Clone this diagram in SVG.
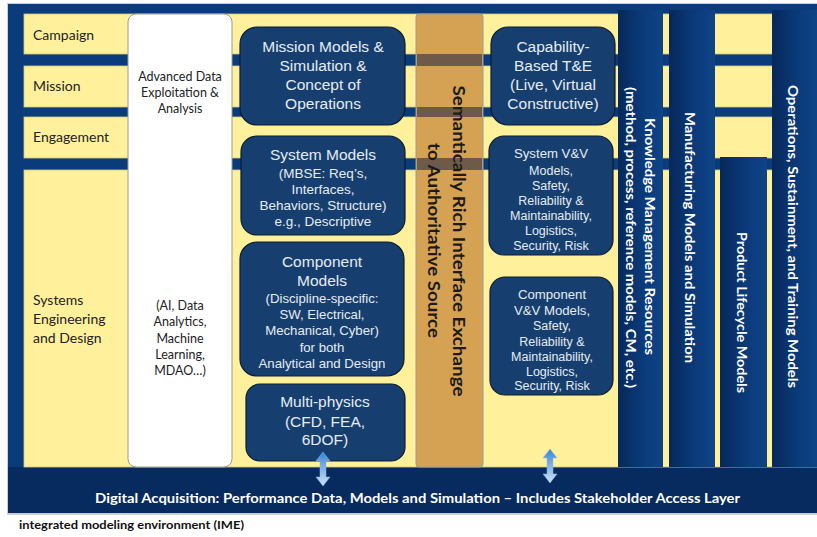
<svg xmlns="http://www.w3.org/2000/svg" width="817" height="537" viewBox="0 0 817 537">
<defs>
<style>
.row{fill:#fff19b;stroke:#d9c978;stroke-width:0.8}
.box{fill:#163f70;stroke:#0c1c33;stroke-width:1.2}
.bt{font-family:"Liberation Sans",Arial,sans-serif;fill:#e6ecf3;text-anchor:middle}
.lbl{font-family:Lato,"Open Sans",sans-serif;font-size:14px;fill:#222}
.wt{font-family:Lato,"Open Sans",sans-serif;font-size:12.5px;fill:#222;text-anchor:middle}
.col{fill:url(#colGrad)}
.ct{font-family:Lato,"Open Sans",sans-serif;font-weight:700;font-size:14px;fill:#ffffff;text-anchor:middle}
.st{font-family:Lato,"Open Sans",sans-serif;font-weight:700;font-size:17px;fill:#1c1a16;text-anchor:middle}
.arr{fill:url(#arrGrad);stroke:#8db8e6;stroke-width:0.5}
</style>
<linearGradient id="colGrad" x1="0" y1="0" x2="1" y2="0">
<stop offset="0" stop-color="#07285a"/>
<stop offset="0.55" stop-color="#0b3a7a"/>
<stop offset="1" stop-color="#0e4487"/>
</linearGradient>
<linearGradient id="arrGrad" x1="0" y1="0" x2="0" y2="1">
<stop offset="0" stop-color="#3a84d6"/>
<stop offset="1" stop-color="#cfe3f7"/>
</linearGradient>
<path id="dblArrow" d="M0,0 L7,9 L3,9 L3,25 L7,25 L0,34 L-7,25 L-3,25 L-3,9 L-7,9 Z"/>
</defs>

<g id="frame">
<rect x="7" y="3" width="812" height="512" fill="#c9cdd4"/>
<rect x="8" y="4" width="811" height="509" fill="#0a3b7b"/>
<rect x="8" y="467" width="811" height="46" fill="#072b5e"/>
</g>

<g id="row-campaign">
<rect class="row" x="24" y="14" width="795" height="40"/>
<text class="lbl" x="33" y="40">Campaign</text>
</g>
<g id="row-mission">
<rect class="row" x="24" y="66" width="795" height="41"/>
<text class="lbl" x="33" y="91">Mission</text>
</g>
<g id="row-engagement">
<rect class="row" x="24" y="117" width="795" height="41"/>
<text class="lbl" x="33" y="142">Engagement</text>
</g>
<g id="row-systems">
<rect class="row" x="24" y="170" width="795" height="297"/>
<text class="lbl" x="33" y="305">Systems</text>
<text class="lbl" x="33" y="324">Engineering</text>
<text class="lbl" x="33" y="343">and Design</text>
</g>

<g id="advanced-data">
<rect x="128" y="14" width="104" height="453" rx="8" fill="#ffffff" stroke="#9a9a9a" stroke-width="1"/>
<text class="wt" x="180" y="81">Advanced Data</text>
<text class="wt" x="180" y="97">Exploitation &amp;</text>
<text class="wt" x="180" y="113">Analysis</text>
<text class="wt" x="180" y="310">(AI, Data</text>
<text class="wt" x="180" y="326">Analytics,</text>
<text class="wt" x="180" y="343">Machine</text>
<text class="wt" x="180" y="359">Learning,</text>
<text class="wt" x="180" y="375">MDAO…)</text>
</g>

<g id="mission-models">
<rect class="box" x="240" y="27" width="165" height="98" rx="17"/>
<text class="bt" font-size="15.5" x="323" y="52">Mission Models &amp;</text>
<text class="bt" font-size="15.5" x="323" y="71">Simulation &amp;</text>
<text class="bt" font-size="15.5" x="323" y="90">Concept of</text>
<text class="bt" font-size="15.5" x="323" y="109">Operations</text>
</g>

<g id="system-models">
<rect class="box" x="241" y="136" width="164" height="99" rx="16"/>
<text class="bt" font-size="15.5" x="323" y="160">System Models</text>
<text class="bt" font-size="13.5" x="323" y="178">(MBSE: Req’s,</text>
<text class="bt" font-size="13.5" x="323" y="194">Interfaces,</text>
<text class="bt" font-size="13.5" x="323" y="210">Behaviors, Structure)</text>
<text class="bt" font-size="13.5" x="323" y="226">e.g., Descriptive</text>
</g>

<g id="component-models">
<rect class="box" x="240" y="242" width="164" height="134" rx="17"/>
<text class="bt" font-size="15.5" x="322" y="267">Component</text>
<text class="bt" font-size="15.5" x="322" y="286">Models</text>
<text class="bt" font-size="13.2" x="322" y="303">(Discipline-specific:</text>
<text class="bt" font-size="13.2" x="322" y="319">SW, Electrical,</text>
<text class="bt" font-size="13.2" x="322" y="335">Mechanical, Cyber)</text>
<text class="bt" font-size="13.2" x="322" y="352">for both</text>
<text class="bt" font-size="13.2" x="322" y="368">Analytical and Design</text>
</g>

<g id="multi-physics">
<rect class="box" x="246" y="384" width="159" height="77" rx="14"/>
<text class="bt" font-size="15.5" x="325" y="407">Multi-physics</text>
<text class="bt" font-size="15.5" x="325" y="427">(CFD, FEA,</text>
<text class="bt" font-size="15.5" x="325" y="445">6DOF)</text>
</g>

<g id="semantic-exchange">
<rect x="416" y="14" width="67" height="453" rx="3" fill="#d5a153" stroke="#9a9a9a" stroke-width="1"/>
<rect x="417" y="54" width="65" height="12" fill="#6e5a48"/>
<rect x="417" y="107" width="65" height="10" fill="#6e5a48"/>
<rect x="417" y="158" width="65" height="12" fill="#6e5a48"/>
<text class="st" transform="translate(453,241) rotate(90)" textLength="311" lengthAdjust="spacingAndGlyphs">Semantically Rich Interface Exchange</text>
<text class="st" transform="translate(428,240.5) rotate(90)" textLength="195" lengthAdjust="spacingAndGlyphs">to Authoritative Source</text>
</g>

<g id="capability-te">
<rect class="box" x="491" y="27" width="124" height="98" rx="17"/>
<text class="bt" font-size="15.5" x="553" y="52">Capability-</text>
<text class="bt" font-size="15.5" x="553" y="71">Based T&amp;E</text>
<text class="bt" font-size="15.5" x="553" y="90">(Live, Virtual</text>
<text class="bt" font-size="15.5" x="553" y="109">Constructive)</text>
</g>

<g id="system-vv">
<rect class="box" x="489" y="136" width="124" height="119" rx="15"/>
<text class="bt" font-size="13.2" x="551" y="158">System V&amp;V</text>
<text class="bt" font-size="12.5" x="551" y="175">Models,</text>
<text class="bt" font-size="12.5" x="551" y="190">Safety,</text>
<text class="bt" font-size="12.5" x="551" y="205">Reliability  &amp;</text>
<text class="bt" font-size="12.5" x="551" y="220">Maintainability,</text>
<text class="bt" font-size="12.5" x="551" y="235">Logistics,</text>
<text class="bt" font-size="12.5" x="551" y="250">Security, Risk</text>
</g>

<g id="component-vv">
<rect class="box" x="490" y="277" width="123" height="118" rx="15"/>
<text class="bt" font-size="13.2" x="552" y="299">Component</text>
<text class="bt" font-size="13.2" x="552" y="315">V&amp;V Models,</text>
<text class="bt" font-size="12.5" x="552" y="330">Safety,</text>
<text class="bt" font-size="12.5" x="552" y="346">Reliability  &amp;</text>
<text class="bt" font-size="12.5" x="552" y="361">Maintainability,</text>
<text class="bt" font-size="12.5" x="552" y="376">Logistics,</text>
<text class="bt" font-size="12.5" x="552" y="390">Security, Risk</text>
</g>

<g id="knowledge-management">
<rect class="col" x="618" y="10" width="45" height="457"/>
<text class="ct" transform="translate(645,236.5) rotate(90)" textLength="237" lengthAdjust="spacingAndGlyphs">Knowledge Management Resources</text>
<text class="ct" transform="translate(626,237.5) rotate(90)" textLength="301" lengthAdjust="spacingAndGlyphs">(method, process, reference models, CM, etc.)</text>
</g>

<g id="manufacturing">
<rect class="col" x="669" y="10" width="46" height="457"/>
<text class="ct" transform="translate(685,237.5) rotate(90)" textLength="251" lengthAdjust="spacingAndGlyphs">Manufacturing Models and Simulation</text>
</g>

<g id="product-lifecycle">
<rect class="col" x="720" y="157" width="47" height="310"/>
<text class="ct" transform="translate(737,312.5) rotate(90)" textLength="161" lengthAdjust="spacingAndGlyphs">Product Lifecycle Models</text>
</g>

<g id="operations-sustainment">
<rect class="col" x="772" y="10" width="47" height="457"/>
<text class="ct" transform="translate(788,236.5) rotate(90)" textLength="303" lengthAdjust="spacingAndGlyphs">Operations, Sustainment, and Training Models</text>
</g>

<g id="digital-acquisition">
<text x="417.5" y="503" font-family="Lato,'Open Sans',sans-serif" font-weight="700" font-size="14" fill="#ffffff" text-anchor="middle" textLength="645" lengthAdjust="spacingAndGlyphs">Digital Acquisition: Performance Data, Models and Simulation – Includes Stakeholder Access Layer</text>
</g>

<g id="connectors">
<use href="#dblArrow" class="arr" transform="translate(323,452)"/>
<use href="#dblArrow" class="arr" transform="translate(550,449)"/>
</g>

<g id="caption">
<text x="19" y="529" font-family="Lato,'Open Sans',sans-serif" font-weight="700" font-size="11.5" fill="#111" textLength="225" lengthAdjust="spacingAndGlyphs">integrated modeling environment (IME)</text>
</g>
</svg>
